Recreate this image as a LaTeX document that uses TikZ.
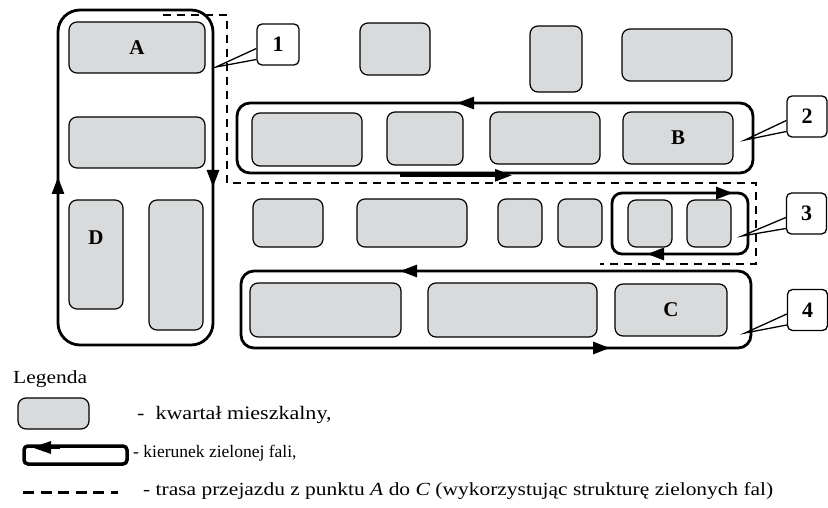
\documentclass[tikz,border=0pt]{standalone}
\usepackage{fontspec}
\setmainfont{Liberation Serif}
\newfontfamily\widefont[FakeStretch=1.16]{Liberation Serif}
\definecolor{kwgray}{RGB}{217,218,220}
\usetikzlibrary{arrows.meta}

\begin{document}
\begin{tikzpicture}[x=1pt,y=-1pt,
  kw/.style={draw, fill=kwgray, rounded corners=8pt, line width=1.2pt, inner sep=0pt, font=\bfseries\fontsize{21}{24}\selectfont},
  wave/.style={line width=2.8pt},
  wavetip/.style={line width=2.8pt, -{Triangle[length=17pt,width=12pt]}},
  route/.style={line width=2.2pt, dash pattern=on 8pt off 6pt},
  callout/.style={draw, fill=white, rounded corners=5pt, line width=1.3pt, minimum width=40pt, minimum height=41pt, inner sep=0pt, font=\bfseries\fontsize{22}{24}\selectfont},
  pointer/.style={line width=1.3pt},
  legtext/.style={anchor=base west, inner sep=0pt}]
  \useasboundingbox (0,0) rectangle (828,508);

  % Route from A to C
  \coordinate (start) at (163,15);
  \coordinate (stop) at (600,264);
  \draw[route] (start) -- (227,15) -- (227,183) -- (756,183) -- (756,264) -- (stop);

  % Wave 1 (vertical loop)
  \draw[wave, rounded corners=22pt] (58,10) rectangle (213,345);
  \draw[wavetip] (58,205) -- (58,177);
  \draw[wavetip] (213,160) -- (213,187);

  % Wave 2
  \draw[wave, rounded corners=13pt] (237,103) rectangle (753,173);
  \draw[wavetip] (490,103) -- (457,103);
  \draw[wavetip] (400,175.3) -- (512,175.3);

  % Wave 3
  \draw[wave, rounded corners=10pt] (612,193) rectangle (748,254);
  \draw[wavetip] (700,193) -- (733,193);
  \draw[wavetip] (680,254) -- (647,254);

  % Wave 4
  \draw[wave, rounded corners=13pt] (241,271) rectangle (751,348);
  \draw[wavetip] (430,271) -- (400,271);
  \draw[wavetip] (580,348) -- (610,348);

  % Blocks inside wave 1
  \node[kw, minimum width=136pt, minimum height=51pt] (blkA) at (137,47.5) {A};
  \node[kw, minimum width=136pt, minimum height=51pt] (blkA2) at (137,142.5) {};
  \node[kw, minimum width=54pt, minimum height=109pt, label={[font=\bfseries\fontsize{21}{24}\selectfont, yshift=17pt]center:D}] (blkD) at (96,254.5) {};
  \node[kw, minimum width=54pt, minimum height=130pt] (blkD2) at (176,265) {};

  % Top row
  \node[kw, minimum width=70pt, minimum height=52pt] (top1) at (395,49) {};
  \node[kw, minimum width=52pt, minimum height=66pt] (top2) at (556,59) {};
  \node[kw, minimum width=110pt, minimum height=52pt] (top3) at (677,55) {};

  % Blocks inside wave 2
  \node[kw, minimum width=110pt, minimum height=53pt] (row1) at (307,139.5) {};
  \node[kw, minimum width=76pt, minimum height=53pt] (row2) at (425,138.5) {};
  \node[kw, minimum width=110pt, minimum height=52pt] (row3) at (545,138) {};
  \node[kw, minimum width=110pt, minimum height=52pt] (blkB) at (678,138) {B};

  % Middle row and wave 3
  \node[kw, minimum width=70pt, minimum height=48pt] (mid1) at (288,223) {};
  \node[kw, minimum width=110pt, minimum height=48pt] (mid2) at (412,223) {};
  \node[kw, minimum width=44pt, minimum height=48pt] (mid3) at (520,223) {};
  \node[kw, minimum width=44pt, minimum height=48pt] (mid4) at (580,223) {};
  \node[kw, minimum width=44pt, minimum height=47pt] (mid5) at (650,223.5) {};
  \node[kw, minimum width=44pt, minimum height=47pt] (mid6) at (709,223.5) {};

  % Blocks inside wave 4
  \node[kw, minimum width=151pt, minimum height=54pt] (low1) at (325.5,310) {};
  \node[kw, minimum width=169pt, minimum height=54pt] (low2) at (512.5,310) {};
  \node[kw, minimum width=112pt, minimum height=52pt] (blkC) at (671,310) {C};

  % Callouts
  \node[callout, minimum width=42pt] (k1) at (278,44.5) {1};
  \node[callout] (k2) at (807,116.5) {2};
  \node[callout] (k3) at (806.5,213.5) {3};
  \node[callout] (k4) at (807.5,310) {4};
  \coordinate (t1) at (216,67);
  \coordinate (t2) at (745,140);
  \coordinate (t3) at (742,236);
  \coordinate (t4) at (745,333);
  \foreach \k in {1,2,3,4}
    \draw[pointer] ([yshift=-4pt]k\k.west) -- (t\k) -- ([yshift=-15pt]k\k.west);

  % Legend
  \node[legtext, font=\widefont\fontsize{18.5}{22}\selectfont] (leghead) at (13,383) {Legenda};
  \node[kw, minimum width=71pt, minimum height=31pt] (legblk) at (53.5,413.5) {};
  \node[legtext, font=\widefont\fontsize{19}{22}\selectfont] (legblktxt) at (137,419) {-\ \ kwartał mieszkalny,};
  \draw[line width=3.5pt, rounded corners=4pt] (24,446) rectangle (127,464);
  \draw[line width=3pt, -{Triangle[length=19pt,width=12pt]}] (60,447.5) -- (32,447.5);
  \node[legtext, font=\fontsize{17.5}{21}\selectfont] (legwavetxt) at (133,457) {- kierunek zielonej fali,};
  \coordinate (legd1) at (23,492);
  \coordinate (legd2) at (118,492);
  \draw[line width=3pt, dash pattern=on 11pt off 6.5pt] (legd1) -- (legd2);
  \node[legtext, font=\widefont\fontsize{18.5}{22}\selectfont] (legroutetxt) at (143,495) {- trasa przejazdu z punktu \textit{A} do \textit{C} (wykorzystując strukturę zielonych fal)};
\end{tikzpicture}
\end{document}
